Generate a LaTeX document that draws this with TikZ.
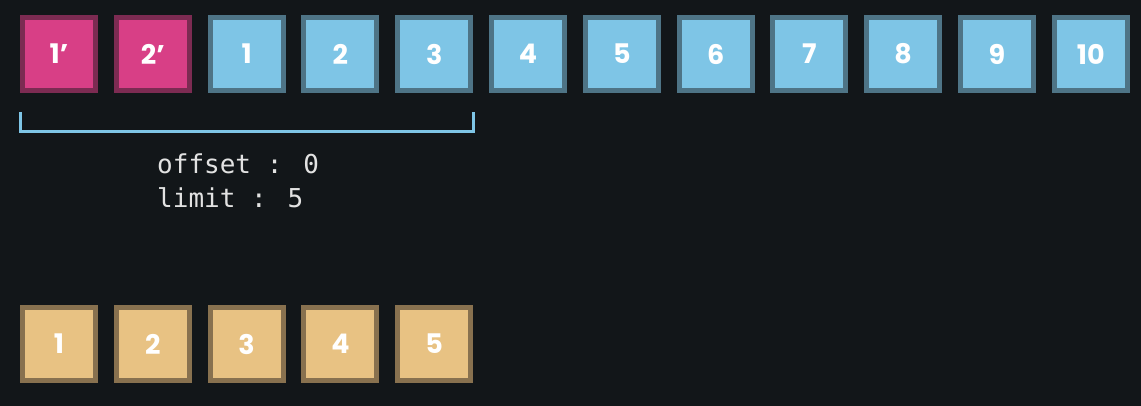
\documentclass[tikz,border=0pt]{standalone}
\usepackage{fontspec}
\setmainfont{Poppins}
\newfontfamily\codefont{DejaVu Sans Mono}
\definecolor{bg}{HTML}{121619}
\definecolor{pinkfill}{HTML}{D83F86}
\definecolor{pinkline}{HTML}{7C2B52}
\definecolor{bluefill}{HTML}{7EC5E6}
\definecolor{blueline}{HTML}{4E7486}
\definecolor{tanfill}{HTML}{E8C283}
\definecolor{tanline}{HTML}{88714F}
\definecolor{codegray}{HTML}{E2E2E2}
\newcommand{\primemark}{{\char"27}}
\tikzset{
  cell/.style={minimum size=73pt, line width=5pt, inner sep=0pt, text=white,
    font=\fontsize{27}{27}\selectfont\bfseries},
  pinkcell/.style={cell, fill=pinkfill, draw=pinkline},
  bluecell/.style={cell, fill=bluefill, draw=blueline},
  tancell/.style={cell, fill=tanfill, draw=tanline},
  bracket/.style={draw=bluefill, line width=3pt},
  code/.style={text=codegray, font=\codefont\fontsize{26}{26}\selectfont, inner sep=0pt, anchor=base west}
}
\begin{document}
\begin{tikzpicture}[x=1pt,y=-1pt]
\fill[bg] (0,0) rectangle (1141,406);
\useasboundingbox (0,0) rectangle (1141,406);
\node[pinkcell] (p1) at (59,54) {1\primemark};
\node[pinkcell] (p2) at (152.8,54) {2\primemark};
\foreach \i in {1,...,10} {
  \node[bluecell] (b\i) at ({59+93.8*(\i+1)},54) {\i};
}
\foreach \i in {1,...,5} {
  \node[tancell] (t\i) at ({59+93.8*(\i-1)},344) {\i};
}
\coordinate (bl) at (20,112);
\coordinate (br) at (473,112);
\draw[bracket] (bl) -- ++(0,19.5) -| (br);
\node[code] (off) at (157,174) {offset : 0};
\node[code] (lim) at (157,208) {limit : 5};
\end{tikzpicture}
\end{document}
